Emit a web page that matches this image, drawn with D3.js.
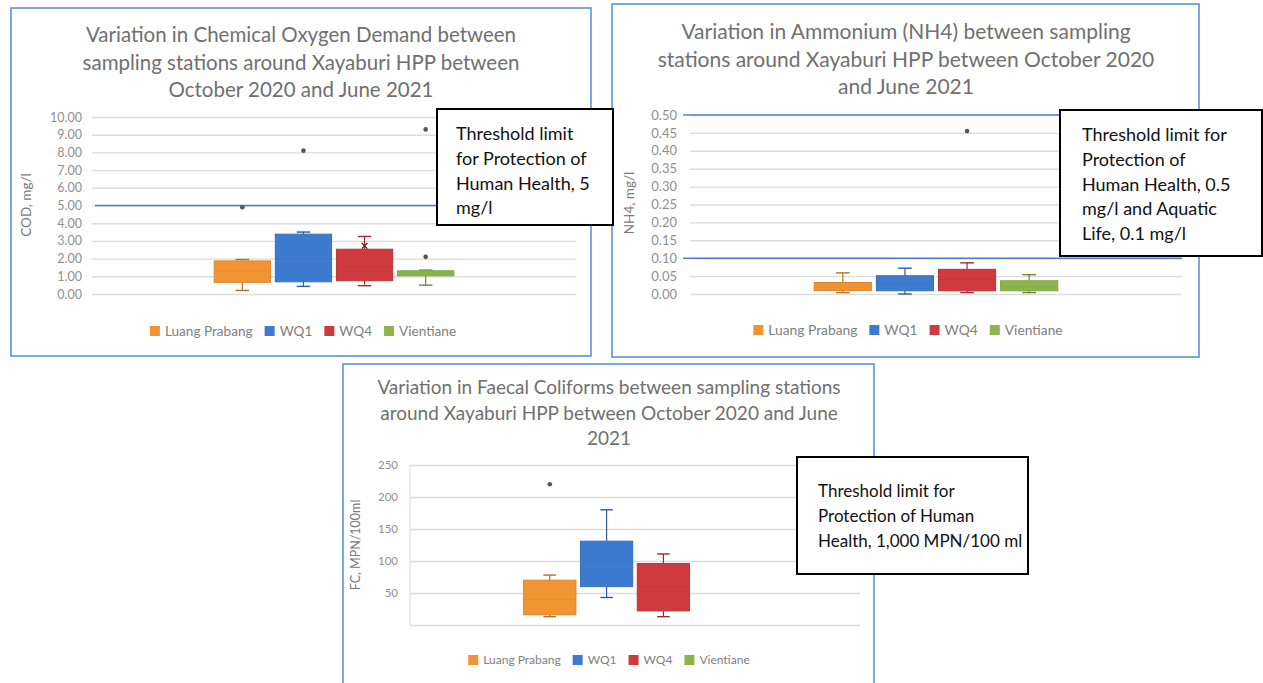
<!DOCTYPE html>
<html>
<head>
<meta charset="utf-8">
<script src="https://cdn.jsdelivr.net/npm/d3@7"></script>
<style>
  html, body { margin: 0; padding: 0; background: #ffffff; }
  svg { display: block; }
  text { font-family: Lato, "Open Sans", "Noto Sans", sans-serif; }
</style>
</head>
<body>
<svg id="fig" width="1263" height="683"></svg>
<script>
// Sampling stations (one box per station in each chart)
const stations = ["Luang Prabang", "WQ1", "WQ4", "Vientiane"];
const stationColors = ["#f39433", "#3d7bd1", "#cf3a40", "#8db54b"];

// Chemical Oxygen Demand, mg/l
const codMin = [0.20, 0.43, 0.47, 0.50];
const codQ1 = [0.66, 0.69, 0.75, 1.03];
const codMedian = [1.30, 2.00, 1.55, 1.18];
const codQ3 = [1.87, 3.38, 2.53, 1.31];
const codMax = [1.95, 3.50, 3.25, 1.35];
const codMean = [null, null, 2.72, null];
const codOutliers = [[4.9], [8.1], [], [2.1, 9.3]];
const codTicks = [0, 1, 2, 3, 4, 5, 6, 7, 8, 9, 10];

// Ammonium (NH4), mg/l
const nh4Min = [0.004, 0.000, 0.004, 0.004];
const nh4Q1 = [0.010, 0.009, 0.009, 0.009];
const nh4Median = [0.020, 0.030, 0.040, 0.020];
const nh4Q3 = [0.032, 0.051, 0.069, 0.037];
const nh4Max = [0.059, 0.072, 0.087, 0.054];
const nh4Outliers = [[], [], [0.455], []];
const nh4Ticks = [0, 0.05, 0.10, 0.15, 0.20, 0.25, 0.30, 0.35, 0.40, 0.45, 0.50];

// Faecal Coliforms, MPN/100ml (no samples at Vientiane)
const fcMin = [13, 43, 13, null];
const fcQ1 = [16, 60, 22, null];
const fcMedian = [40, 100, 60, null];
const fcQ3 = [70, 131, 96, null];
const fcMax = [78, 180, 111, null];
const fcOutliers = [[220], [], [], []];
const fcTicks = [50, 100, 150, 200, 250];
const fcGrid = [0, 50, 100, 150, 200, 250];

function statsOf(min, q1, med, q3, max, outliers, mean) {
  return stations.map((s, i) => ({
    station: s, color: stationColors[i],
    min: min[i], q1: q1[i], median: med[i], q3: q3[i], max: max[i],
    outliers: outliers[i], mean: mean ? mean[i] : null
  }));
}

const svg = d3.select("#fig");
svg.append("rect").attr("width", 1263).attr("height", 683).attr("fill", "#ffffff");

function drawBoxChart(cfg) {
  const g = svg.append("g");
  const f = cfg.frame;
  g.append("rect")
    .attr("x", f.x).attr("y", f.y).attr("width", f.w).attr("height", f.h)
    .attr("fill", "#ffffff").attr("stroke", "#5b93d9").attr("stroke-width", 1.6);

  // title
  const title = g.append("text")
    .attr("text-anchor", "middle")
    .attr("font-size", cfg.titleSize)
    .attr("fill", "#707070");
  cfg.titleLines.forEach((t, i) => {
    title.append("tspan").attr("x", cfg.titleX).attr("y", cfg.titleY + i * cfg.titleStep).text(t);
  });

  const p = cfg.plot;
  const y = d3.scaleLinear().domain(cfg.domain).range([p.bottom, p.top]);

  // gridlines
  g.append("g")
    .attr("transform", `translate(${p.left},0)`)
    .call(d3.axisLeft(y).tickValues(cfg.grid).tickSize(-(p.right - p.left)).tickFormat(""))
    .call(a => a.select(".domain").remove())
    .call(a => a.selectAll("line").attr("stroke", "#dcdcdc").attr("stroke-width", 1.4));

  if (cfg.axisLine) {
    g.append("line")
      .attr("x1", p.left).attr("x2", p.left).attr("y1", p.top).attr("y2", p.bottom)
      .attr("stroke", "#e2e2e2").attr("stroke-width", 1.2);
  }

  // tick labels
  g.append("g")
    .attr("transform", `translate(${p.left},0)`)
    .call(d3.axisLeft(y).tickValues(cfg.ticks).tickSize(0).tickPadding(cfg.tickPad).tickFormat(cfg.tickFormat))
    .call(a => a.select(".domain").remove())
    .call(a => a.selectAll("text")
      .attr("font-size", cfg.tickSize).attr("fill", "#909090")
      .style("font-family", "Lato, 'Open Sans', sans-serif"));

  // axis title
  g.append("text")
    .attr("transform", `translate(${cfg.yTitleX},${cfg.yTitleY}) rotate(-90)`)
    .attr("text-anchor", "middle")
    .attr("font-size", cfg.yTitleSize)
    .attr("fill", "#7a7a7a")
    .text(cfg.yTitle);

  // threshold lines
  cfg.thresholds.forEach(v => {
    g.append("line")
      .attr("x1", p.left + cfg.thresholdShift).attr("x2", p.right)
      .attr("y1", y(v)).attr("y2", y(v))
      .attr("stroke", "#4a7fd0").attr("stroke-width", 1.5);
  });

  // category band (single category), series sub-bands
  const x0 = d3.scaleBand().domain(["all"]).range([p.left, p.right]).paddingInner(0).paddingOuter(0.5);
  const x1 = d3.scaleBand().domain(stations).range([0, x0.bandwidth()]).paddingInner(0.08).paddingOuter(0.02);
  const bx = s => x0("all") + x1(s);
  const bw = x1.bandwidth();
  const cx = s => bx(s) + bw / 2;

  const data = cfg.stats.filter(d => d.q1 != null);
  const boxes = g.append("g").selectAll("g").data(data).join("g");

  // whiskers
  boxes.append("line")
    .attr("x1", d => cx(d.station)).attr("x2", d => cx(d.station))
    .attr("y1", d => y(d.max)).attr("y2", d => y(d.q3))
    .attr("stroke", d => d3.color(d.color).darker(0.8)).attr("stroke-width", 1.2);
  boxes.append("line")
    .attr("x1", d => cx(d.station)).attr("x2", d => cx(d.station))
    .attr("y1", d => y(d.q1)).attr("y2", d => y(d.min))
    .attr("stroke", d => d3.color(d.color).darker(0.8)).attr("stroke-width", 1.2);
  // caps
  ["max", "min"].forEach(k => {
    boxes.append("line")
      .attr("x1", d => cx(d.station) - bw * 0.12).attr("x2", d => cx(d.station) + bw * 0.12)
      .attr("y1", d => y(d[k])).attr("y2", d => y(d[k]))
      .attr("stroke", d => d3.color(d.color).darker(0.8)).attr("stroke-width", 1.4);
  });
  // boxes
  boxes.append("rect")
    .attr("x", d => bx(d.station)).attr("width", bw)
    .attr("y", d => y(d.q3)).attr("height", d => Math.max(1.5, y(d.q1) - y(d.q3)))
    .attr("fill", d => d.color)
    .attr("stroke", d => d3.color(d.color).darker(0.3)).attr("stroke-width", 1);
  // median
  boxes.append("line")
    .attr("x1", d => bx(d.station) + 2).attr("x2", d => bx(d.station) + bw - 2)
    .attr("y1", d => y(d.median)).attr("y2", d => y(d.median))
    .attr("stroke", d => d3.color(d.color).darker(0.25)).attr("stroke-opacity", 0.6)
    .attr("stroke-width", 1);
  // mean marker
  boxes.filter(d => d.mean != null).append("path")
    .attr("transform", d => `translate(${cx(d.station)},${y(d.mean)})`)
    .attr("d", d3.symbol(d3.symbolX, 22))
    .attr("stroke", "#5a2020").attr("stroke-width", 1.3).attr("fill", "none");
  // outliers
  boxes.selectAll("circle").data(d => d.outliers.map(v => ({ v, s: d.station })))
    .join("circle")
    .attr("cx", d => cx(d.s)).attr("cy", d => y(d.v)).attr("r", 2.3)
    .attr("fill", "#555555");

  // legend
  const leg = g.append("g").attr("font-size", cfg.legendSize).attr("fill", "#808080");
  const items = stations.map((s, i) => {
    const it = leg.append("g");
    it.append("rect").attr("width", cfg.swatch).attr("height", cfg.swatch)
      .attr("y", -cfg.swatch / 2).attr("fill", stationColors[i]);
    const t = it.append("text").attr("x", cfg.swatch + 5).attr("dy", "0.35em").text(s);
    return { it, w: cfg.swatch + 5 + t.node().getComputedTextLength() };
  });
  const gap = cfg.legendGap;
  const total = d3.sum(items, d => d.w) + gap * (items.length - 1);
  let lx = cfg.legendX - total / 2;
  items.forEach(d => { d.it.attr("transform", `translate(${lx},${cfg.legendY})`); lx += d.w + gap; });
}

// COD chart
drawBoxChart({
  frame: { x: 11, y: 8, w: 580, h: 348 },
  titleLines: ["Variation in Chemical Oxygen Demand between",
               "sampling stations around Xayaburi HPP between",
               "October 2020 and June 2021"],
  titleX: 301, titleY: 42, titleStep: 27.5, titleSize: 20.5,
  plot: { left: 92, right: 576, top: 117, bottom: 294 },
  domain: [0, 10], ticks: codTicks, grid: codTicks, tickFormat: d3.format(".2f"),
  tickPad: 10, tickSize: 12.5,
  yTitle: "COD, mg/l", yTitleX: 31, yTitleY: 205, yTitleSize: 13.5,
  thresholds: [5], thresholdShift: 3, axisLine: false,
  stats: statsOf(codMin, codQ1, codMedian, codQ3, codMax, codOutliers, codMean),
  legendX: 303, legendY: 331, legendSize: 13.6, swatch: 10, legendGap: 12
});

// NH4 chart
drawBoxChart({
  frame: { x: 612, y: 4, w: 587, h: 353 },
  titleLines: ["Variation in Ammonium (NH4) between sampling",
               "stations around Xayaburi HPP between October 2020",
               "and June 2021"],
  titleX: 906, titleY: 39, titleStep: 27.5, titleSize: 21,
  plot: { left: 690, right: 1182, top: 115, bottom: 294 },
  domain: [0, 0.5], ticks: nh4Ticks, grid: nh4Ticks, tickFormat: d3.format(".2f"),
  tickPad: 13, tickSize: 13,
  yTitle: "NH4, mg/l", yTitleX: 634, yTitleY: 203, yTitleSize: 13.5,
  thresholds: [0.5, 0.1], thresholdShift: -7, axisLine: false,
  stats: statsOf(nh4Min, nh4Q1, nh4Median, nh4Q3, nh4Max, nh4Outliers, null),
  legendX: 908, legendY: 330, legendSize: 13.8, swatch: 10, legendGap: 12
});

// Faecal coliforms chart
drawBoxChart({
  frame: { x: 343, y: 364, w: 531, h: 340 },
  titleLines: ["Variation in Faecal Coliforms between sampling stations",
               "around Xayaburi HPP between October 2020 and June",
               "2021"],
  titleX: 609, titleY: 394, titleStep: 25.5, titleSize: 19,
  plot: { left: 410, right: 860, top: 465, bottom: 625 },
  domain: [0, 250], ticks: fcTicks, grid: fcGrid, tickFormat: d3.format("d"),
  tickPad: 12, tickSize: 11.5,
  yTitle: "FC, MPN/100ml", yTitleX: 360, yTitleY: 545, yTitleSize: 12.5,
  thresholds: [], thresholdShift: 0, axisLine: true,
  stats: statsOf(fcMin, fcQ1, fcMedian, fcQ3, fcMax, fcOutliers, null),
  legendX: 609, legendY: 660, legendSize: 12, swatch: 10, legendGap: 12
});

// Annotation call-out boxes
const notes = [
  { x: 437, y: 109, w: 176, h: 116, tx: 456, ty: 140, size: 18,
    lines: ["Threshold limit", "for Protection of", "Human Health, 5", "mg/l"] },
  { x: 1060, y: 110, w: 202, h: 146, tx: 1082, ty: 141, size: 18,
    lines: ["Threshold limit for", "Protection of", "Human Health, 0.5", "mg/l and Aquatic", "Life, 0.1 mg/l"] },
  { x: 797, y: 457, w: 231, h: 117, tx: 818, ty: 497, size: 17,
    lines: ["Threshold limit for", "Protection of Human", "Health, 1,000 MPN/100 ml"] }
];
notes.forEach(n => {
  const g = svg.append("g");
  g.append("rect").attr("x", n.x).attr("y", n.y).attr("width", n.w).attr("height", n.h)
    .attr("fill", "#ffffff").attr("stroke", "#000000").attr("stroke-width", 2);
  const t = g.append("text").attr("font-size", n.size).attr("fill", "#111111")
    .style("font-family", "Lato, 'Open Sans', sans-serif");
  n.lines.forEach((l, i) => t.append("tspan").attr("x", n.tx).attr("y", n.ty + i * 24.8).text(l));
});
</script>
</body>
</html>
